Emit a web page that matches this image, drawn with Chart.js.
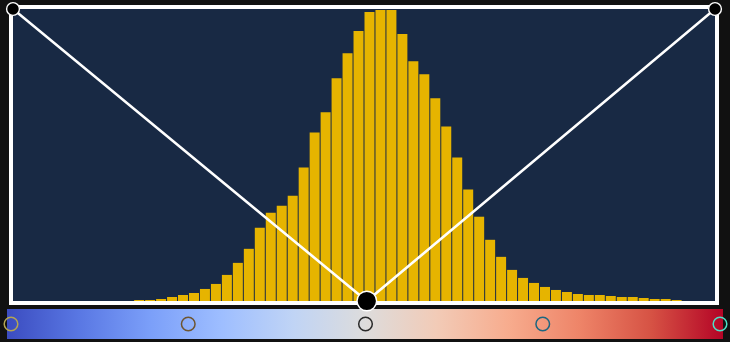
<!DOCTYPE html>
<html>
<head>
<meta charset="utf-8">
<script src="https://cdn.jsdelivr.net/npm/chart.js@4/dist/chart.umd.min.js"></script>
<style>
  html, body { margin: 0; padding: 0; background: #111111; }
  #wrap { width: 730px; height: 342px; position: relative; }
</style>
</head>
<body>
<div id="wrap"><canvas id="c" width="730" height="342"></canvas></div>
<script>
// Histogram counts per bin (64 bins)
const binCounts = [
  0, 0, 0, 0, 0, 0, 0, 0, 0, 0, 0,
  1, 1, 2, 4, 6, 8, 12, 17, 26, 38, 52, 73,
  88, 95, 105, 133, 168, 188, 222, 247, 269, 288,
  290, 290, 266, 239, 226, 202, 174, 143, 111, 84,
  61, 44, 31, 23, 18, 14, 11, 9, 7, 6, 6, 5, 4, 4, 3, 2, 2, 1,
  0, 0, 0
];
const binLabels = binCounts.map((_, i) => String(i));
const countMax = 291;

// Transfer curve (V shape), normalized x/y
const curveX = [0, 0.504, 1];
const curveY = [1, 0, 1];

// Colormap control stops (coolwarm)
const stopPositions = [0, 0.25, 0.5, 0.75, 1];
const stopRingColors = ['#b4a552', '#6e5530', '#2a2a2a', '#1c6680', '#4ee0c8'];
const coolwarm = ['#3b4cc0', '#5977e3', '#7b9ff9', '#9ebeff', '#c0d4f5', '#dddcdc',
                  '#f2cbb7', '#f7ac8e', '#ee8468', '#d65244', '#b40426'];

const plotBg = '#182944';
const barColor = '#e6b400';

// geometry: histogram panel occupies y 9..301, colour bar strip 309..339 (in same chart area)
const PANEL_H = 292, AREA_H = 330;
const yMinCount = -(countMax * AREA_H / PANEL_H - countMax);
const yMinNorm = -(AREA_H / PANEL_H - 1);
const stopY = -23 / PANEL_H;

function panelRect(chart) {
  const a = chart.chartArea;
  const bottom = chart.scales.yl.getPixelForValue(0);
  return { left: a.left, top: a.top, right: a.right, bottom: bottom };
}

const framePlugin = {
  id: 'frame',
  beforeDatasetsDraw(chart) {
    const { ctx, scales } = chart;
    const p = panelRect(chart);
    ctx.save();
    ctx.fillStyle = plotBg;
    ctx.fillRect(p.left, p.top, p.right - p.left, p.bottom - p.top);
    // colour bar gradient
    const xc = scales.xc;
    const x0 = xc.getPixelForValue(0) - 4;
    const x1 = xc.getPixelForValue(1) + 3;
    const g = ctx.createLinearGradient(x0, 0, x1, 0);
    coolwarm.forEach((c, i) => g.addColorStop(i / (coolwarm.length - 1), c));
    ctx.fillStyle = g;
    ctx.fillRect(x0, p.bottom + 8, x1 - x0, 30);
    ctx.restore();
  },
  afterDatasetDraw(chart, args) {
    if (args.index !== 0) return;
    const { ctx } = chart;
    const p = panelRect(chart);
    ctx.save();
    ctx.strokeStyle = '#ffffff';
    ctx.lineWidth = 4;
    ctx.strokeRect(p.left - 2, p.top - 2, p.right - p.left + 4, p.bottom - p.top + 4);
    ctx.restore();
  }
};

new Chart(document.getElementById('c'), {
  data: {
    labels: binLabels,
    datasets: [
      {
        type: 'bar',
        data: binCounts,
        backgroundColor: barColor,
        borderWidth: 0,
        grouped: false,
        barPercentage: 0.91,
        categoryPercentage: 1.0,
        xAxisID: 'x',
        yAxisID: 'y',
        order: 3
      },
      {
        type: 'line',
        data: curveX.map((x, i) => ({ x: x, y: curveY[i] })),
        borderColor: '#ffffff',
        borderWidth: 2.5,
        pointRadius: [6.4, 9.8, 6.4],
        pointBackgroundColor: '#000000',
        pointBorderColor: '#ffffff',
        pointBorderWidth: 1.4,
        tension: 0,
        clip: false,
        xAxisID: 'xl',
        yAxisID: 'yl',
        order: 1
      },
      {
        type: 'scatter',
        data: stopPositions.map(p => ({ x: p, y: stopY })),
        pointRadius: 6.8,
        pointBackgroundColor: 'rgba(0,0,0,0)',
        pointBorderColor: stopRingColors,
        pointBorderWidth: 1.5,
        showLine: false,
        clip: false,
        xAxisID: 'xc',
        yAxisID: 'yl',
        order: 2
      }
    ]
  },
  options: {
    responsive: false,
    animation: false,
    devicePixelRatio: 1,
    layout: { autoPadding: false, padding: { left: 13, right: 15, top: 9, bottom: 3 } },
    plugins: { legend: { display: false }, tooltip: { enabled: false } },
    events: [],
    scales: {
      x: { type: 'category', display: false, offset: true, grid: { display: false } },
      y: { type: 'linear', display: false, offset: false, grace: 0, min: yMinCount, max: countMax },
      xl: { type: 'linear', display: false, offset: false, grace: 0, min: 0, max: 1 },
      yl: { type: 'linear', display: false, offset: false, grace: 0, min: yMinNorm, max: 1 },
      xc: { type: 'linear', display: false, offset: false, grace: 0, min: 0.00282, max: 0.99295 }
    }
  },
  plugins: [framePlugin]
});
</script>
</body>
</html>
